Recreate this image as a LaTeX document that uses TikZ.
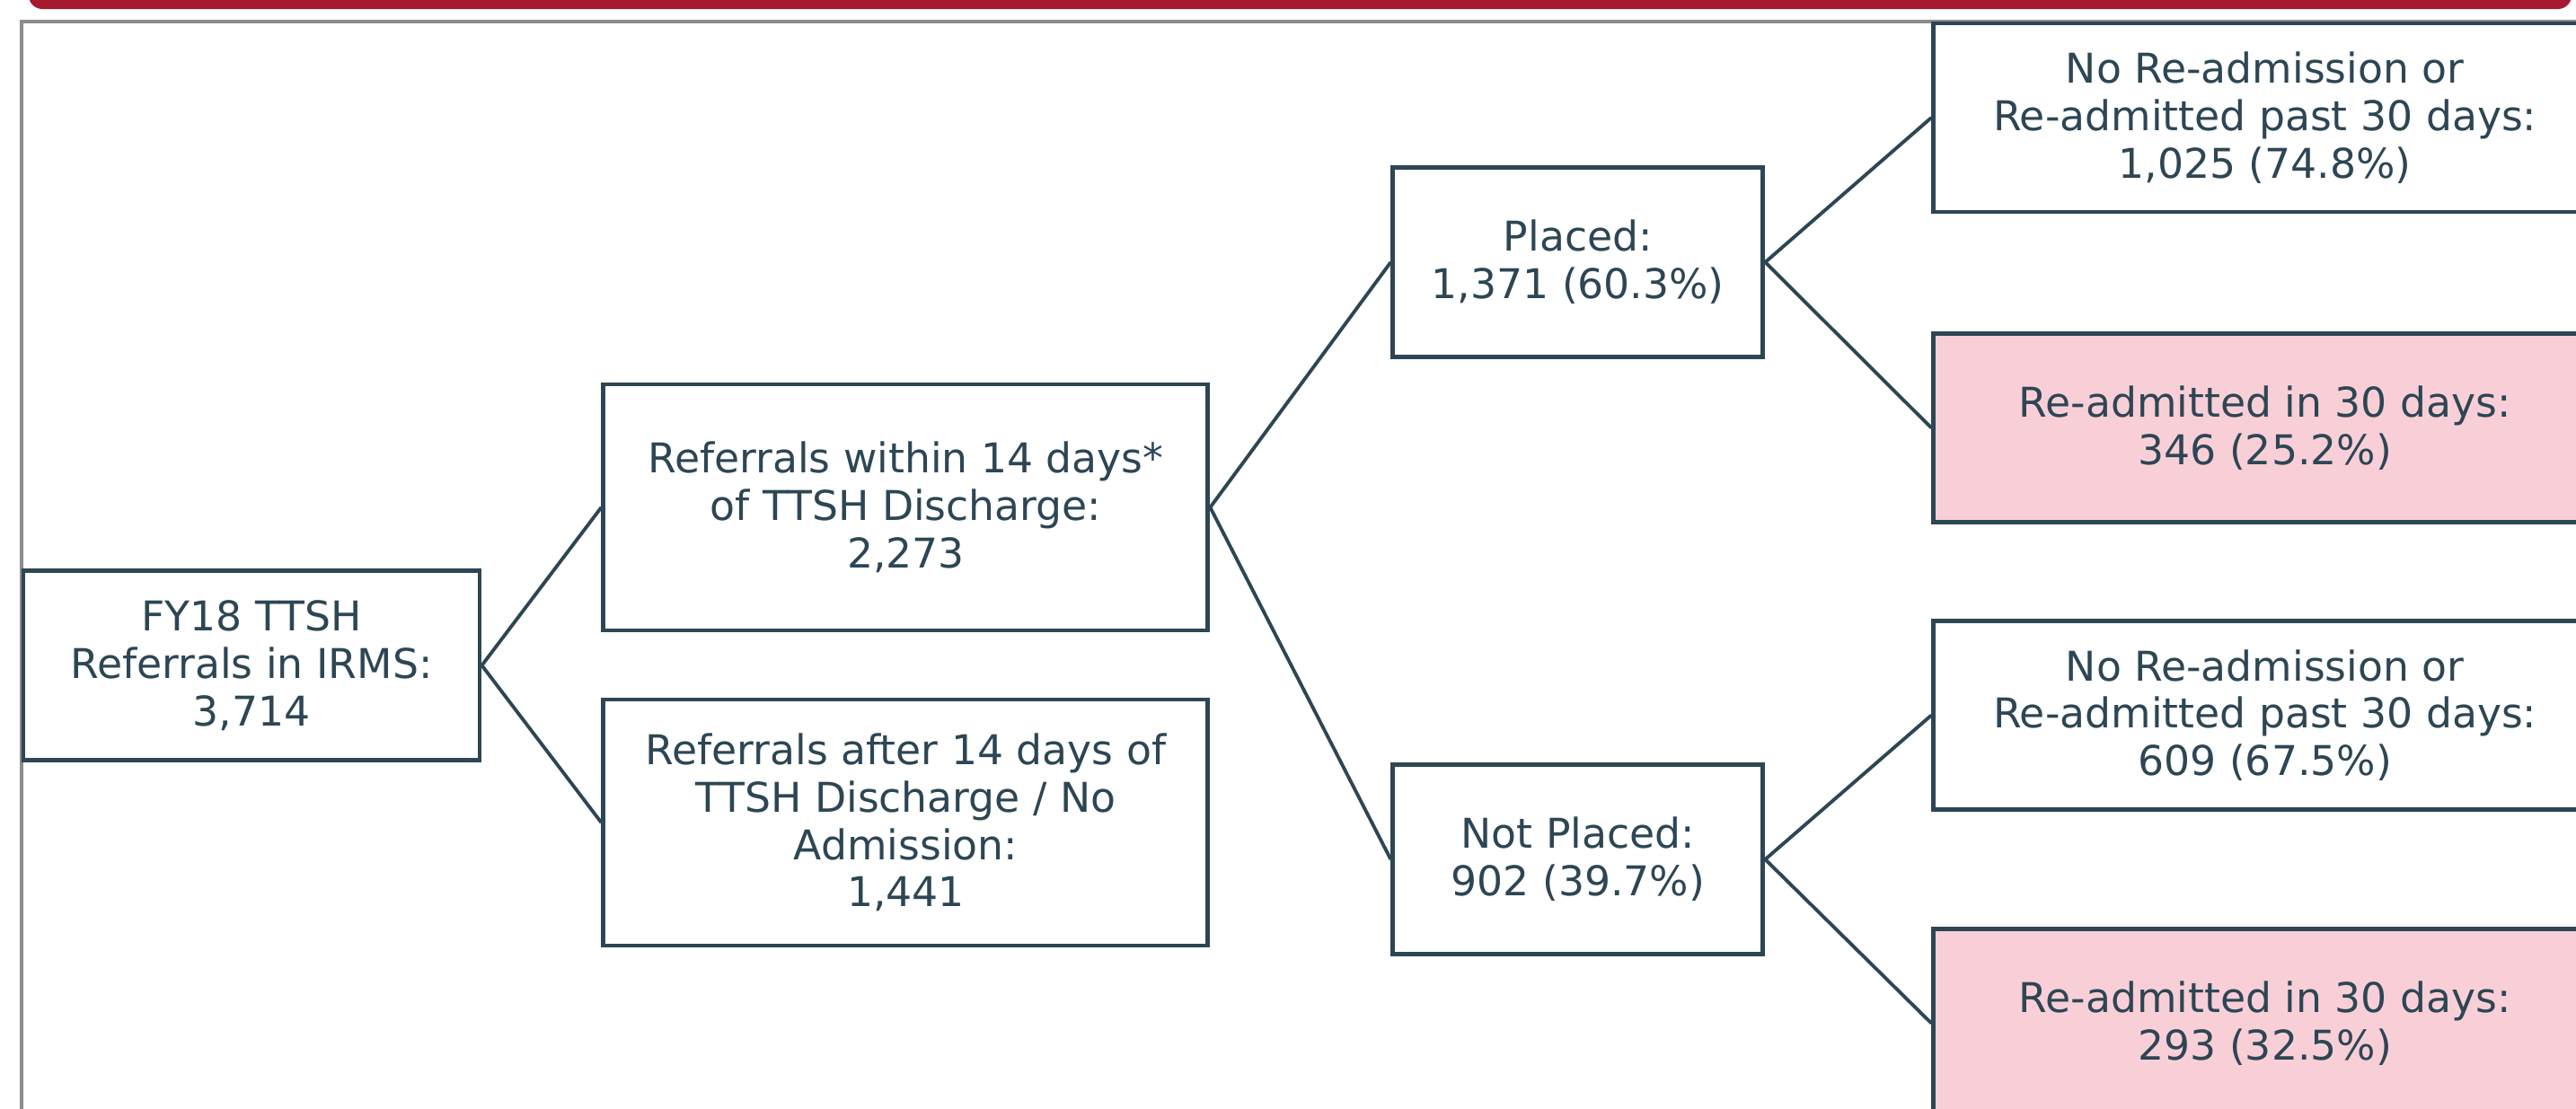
\documentclass[tikz,border=0pt]{standalone}
\usepackage{fontspec}
\setmainfont{DejaVu Sans}
\usetikzlibrary{positioning}
\definecolor{slate}{HTML}{2D4654}
\definecolor{blush}{HTML}{F9CFD7}
\definecolor{banner}{HTML}{A6192E}
\definecolor{frame}{HTML}{8C8C8C}

\begin{document}
\begin{tikzpicture}[thick,
	box/.style={draw=slate,line width=1.4pt,text=slate,align=center,inner sep=0pt,
		font=\fontsize{13}{15}\selectfont},
	first/.style={box,minimum width=5.08cm,minimum height=2.11cm},
	split/.style={box,minimum width=6.73cm,minimum height=2.74cm},
	place/.style={box,minimum width=4.12cm,minimum height=2.11cm},
	outcome/.style={box,minimum width=7.38cm,minimum height=2.10cm},
	readmit/.style={outcome,fill=blush},
	conn/.style={draw=slate,line width=1.1pt}]

	\useasboundingbox (0,0) rectangle (28.68,12.34);
	\clip (0,0) rectangle (28.68,12.34);

	% banner and frame
	\fill[banner,rounded corners=0.15cm] (0.32,12.24) rectangle (28.63,12.70);
	\draw[frame,line width=1.2pt] (0.24,-1) rectangle (30,12.10);

	\node[first] (total) at (2.80,4.93) {FY18 TTSH\\Referrals in IRMS:\\3,714};
	\node[split] (within) [right=1.33cm of total,yshift=1.76cm] {Referrals within 14 days*\\of TTSH Discharge:\\2,273};
	\node[split] (after) [right=1.33cm of total,yshift=-1.75cm] {Referrals after 14 days of\\TTSH Discharge / No\\Admission:\\1,441};
	\node[place] (placed) [right=2.01cm of within,yshift=2.73cm] {Placed:\\1,371 (60.3\%)};
	\node[place] (notplaced) [right=2.01cm of within,yshift=-3.92cm] {Not Placed:\\902 (39.7\%)};
	\node[outcome] (pnone) [right=1.85cm of placed,yshift=1.61cm] {No Re-admission or\\Re-admitted past 30 days:\\1,025 (74.8\%)};
	\node[readmit] (pre) [right=1.85cm of placed,yshift=-1.845cm] {Re-admitted in 30 days:\\346 (25.2\%)};
	\node[outcome] (nnone) [right=1.85cm of notplaced,yshift=1.605cm] {No Re-admission or\\Re-admitted past 30 days:\\609 (67.5\%)};
	\node[readmit] (nre) [right=1.85cm of notplaced,yshift=-1.825cm] {Re-admitted in 30 days:\\293 (32.5\%)};

	\path[conn]
	(total.east) edge (within.west)
	(total.east) edge (after.west)
	(within.east) edge (placed.west)
	(within.east) edge (notplaced.west)
	(placed.east) edge (pnone.west)
	(placed.east) edge (pre.west)
	(notplaced.east) edge (nnone.west)
	(notplaced.east) edge (nre.west)
;
\end{tikzpicture}
\end{document}
